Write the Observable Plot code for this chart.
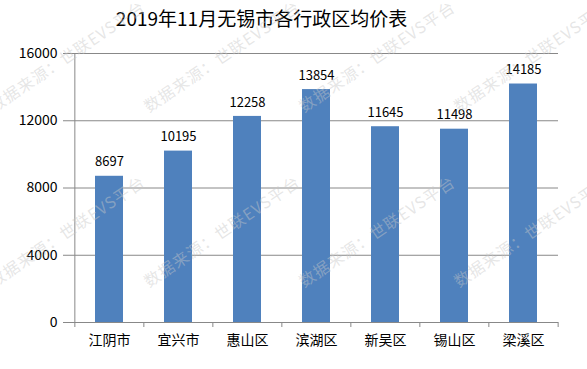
<!DOCTYPE html>
<html><head><meta charset="utf-8">
<script src="https://cdn.jsdelivr.net/npm/d3@7"></script>
<script src="https://cdn.jsdelivr.net/npm/@observablehq/plot@0.6"></script>
<style>
body{margin:0;background:#fff;font-family:"Noto Sans CJK SC",sans-serif;position:relative;width:587px;height:369px;overflow:hidden;}
#title{height:38px;line-height:36px;text-align:center;font-size:19px;color:#000;padding-right:64px;}
#wm{position:absolute;left:0;top:0;pointer-events:none;}
</style></head>
<body>
<div id="title">2019年11月无锡市各行政区均价表</div>
<div id="chart"></div>
<svg id="wm" width="587" height="369"></svg>
<script>
const districts = ["江阴市","宜兴市","惠山区","滨湖区","新吴区","锡山区","梁溪区"];
const prices = [8697,10195,12258,13854,11645,11498,14185];
const yTicks = [0,4000,8000,12000,16000];
const watermarkText = "数据来源：世联EVS平台";

const data = districts.map((d,i)=>({district:d, price:prices[i]}));
const W = 587, H = 331, ml = 73, mr = 29, mt = 15, mb = 47;
const step = (W - ml - mr) / districts.length;
const grey = "#888";

const chart = Plot.plot({
  width: W, height: H,
  marginLeft: ml, marginRight: mr, marginTop: mt, marginBottom: mb,
  style: {fontFamily: '"Noto Sans CJK SC", sans-serif', fontSize: "13px", color: "#000", background: "#fff"},
  x: {domain: districts, paddingInner: 0.6, paddingOuter: 0.3, label: null},
  y: {domain: [0,16000], label: null},
  marks: [
    Plot.ruleY(yTicks, {stroke: grey, strokeWidth: 1}),
    Plot.ruleX([0], {x: () => districts[0], dx: -step/2, y1: 0, y2: 16000, stroke: grey}),
    Plot.axisY(yTicks, {tickSize: 10, tickPadding: 6, stroke: grey, fill: "#000", fontSize: 14, tickFormat: d => String(d), label: null}),
    Plot.axisX({tickSize: 5, stroke: grey, text: null, dx: -step/2, label: null}),
    Plot.axisX([districts[districts.length-1]], {tickSize: 5, stroke: grey, text: null, dx: step/2, label: null}),
    Plot.axisX({tickSize: 0, tickPadding: 13, fontSize: 14, fill: "#000", label: null}),
    Plot.barY(data, {x: "district", y: "price", fill: "#4f81bd"}),
    Plot.text(data, {x: "district", y: "price", text: d => String(d.price), dy: -14, fontSize: 13, fill: "#000"})
  ]
});
document.getElementById("chart").appendChild(chart);

// faint diagonal watermark overlay
const wm = d3.select("#wm");
const starts = [];
for (const y0 of [113, 288]) for (const x0 of [-6, 149, 304, 459]) starts.push([x0, y0]);
wm.selectAll("text").data(starts).join("text")
  .attr("transform", d => `translate(${d[0]},${d[1]}) rotate(-34)`)
  .attr("font-size", 16)
  .attr("letter-spacing", 1)
  .attr("font-family", '"Noto Sans CJK SC", sans-serif')
  .attr("fill", "#c8c8c8")
  .attr("fill-opacity", 0.45)
  .text(watermarkText);
</script>
</body></html>
